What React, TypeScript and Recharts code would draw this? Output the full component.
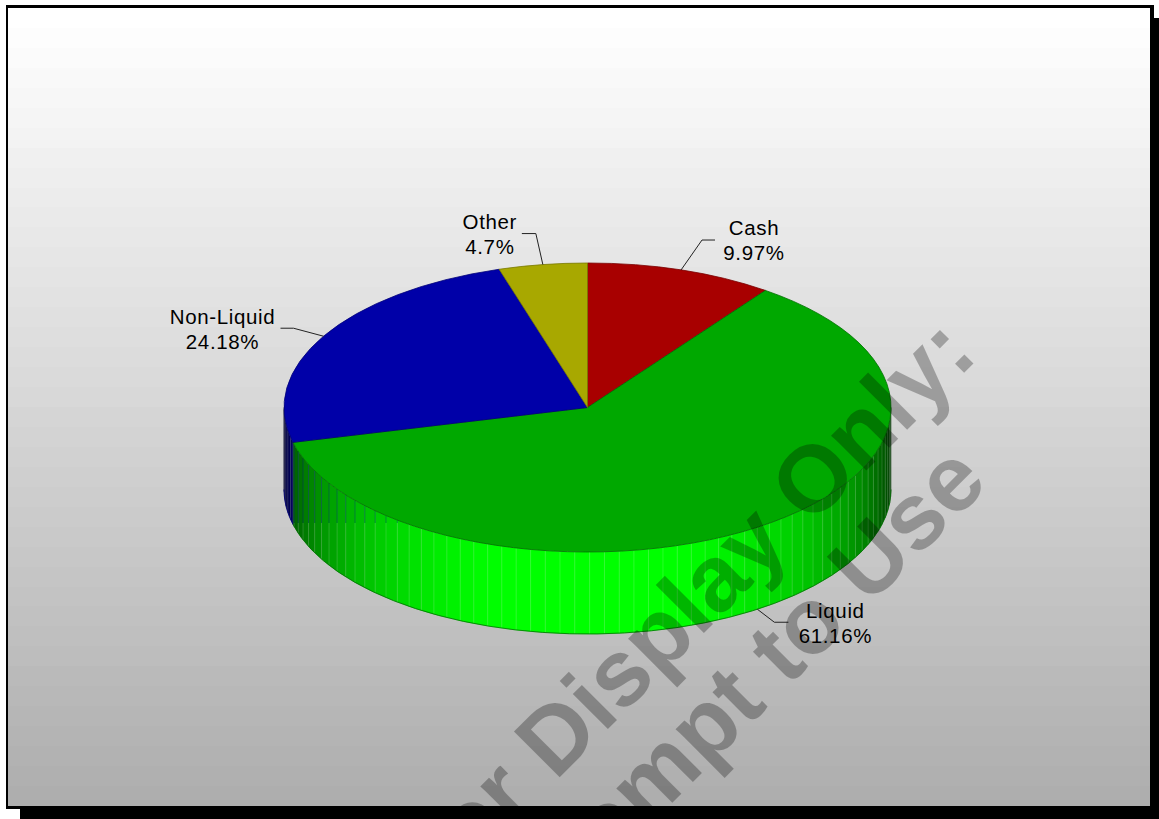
import React from "react";
import { PieChart, Pie, Cell } from "recharts";

const sliceNames = ["Cash", "Liquid", "Non-Liquid", "Other"];
const sliceValues = [9.97, 61.16, 24.18, 4.7];
const sliceLabels = ["9.97%", "61.16%", "24.18%", "4.7%"];
const topColors = ["#a80000", "#00a800", "#0000a8", "#a8a800"];
const edgeColors = ["#780000", "#007000", "#000078", "#787800"];
const wallHues = [
  [255, 0, 0],
  [0, 255, 0],
  [0, 0, 255],
  [255, 255, 0],
];

const WIDTH = 1159;
const HEIGHT = 819;
const CX = 587.5;
const CY = 407.5;
const RADIUS = 303.5;
const SQUASH = 144.5 / 303.5;
const DEPTH = 82;
const STRIP_DEG = 2.8;
const BAND_COUNT = 40;
const SEAM_SPLIT_Y = 523;

const chartData = sliceNames.map((name, i) => ({
  name,
  value: sliceValues[i],
  caption: sliceLabels[i],
  index: i,
}));

const rad = (deg: number) => (deg * Math.PI) / 180;
const rimX = (cx: number, r: number, deg: number) => cx + r * Math.cos(rad(deg));
const rimY = (cy: number, r: number, deg: number) => cy - r * SQUASH * Math.sin(rad(deg));

// Flat top face of a slice: a circular sector squashed onto the ellipse.
function TopSlice(props: any) {
  const { cx, cy, outerRadius: r, startAngle, endAngle, fill, stroke } = props;
  const x0 = rimX(cx, r, startAngle);
  const y0 = rimY(cy, r, startAngle);
  const x1 = rimX(cx, r, endAngle);
  const y1 = rimY(cy, r, endAngle);
  const large = Math.abs(startAngle - endAngle) > 180 ? 1 : 0;
  const d = `M${cx},${cy} L${x0},${y0} A${r},${r * SQUASH} 0 ${large} 1 ${x1},${y1} Z`;
  return <path d={d} fill={fill} stroke={stroke} strokeWidth={0.8} strokeLinejoin="round" />;
}

// Front wall of a slice, cut into narrow shaded strips that fade towards the sides.
function WallSlice(props: any) {
  const { cx, cy, outerRadius: r, startAngle, endAngle, index, stroke } = props;
  const hue = wallHues[index];
  const from = Math.min(0, startAngle);
  const to = Math.max(-180, endAngle);
  if (from <= to) return null;
  const strips: React.ReactNode[] = [];
  const firstStep = Math.floor(-from / STRIP_DEG);
  const lastStep = Math.ceil(-to / STRIP_DEG);
  for (let s = firstStep; s < lastStep; s++) {
    const a0 = Math.min(from, -s * STRIP_DEG);
    const a1 = Math.max(to, -(s + 1) * STRIP_DEG);
    const mid = (a0 + a1) / 2;
    const facing = Math.cos(rad(mid + 90));
    const light = Math.min(1, 0.16 + 0.88 * facing);
    const colour = `rgb(${hue.map((c) => Math.round(c * light)).join(",")})`;
    const x0 = rimX(cx, r, a0);
    const y0 = rimY(cy, r, a0);
    const x1 = rimX(cx, r, a1);
    const y1 = rimY(cy, r, a1);
    const d = `M${x0},${y0} A${r},${r * SQUASH} 0 0 1 ${x1},${y1} L${x1},${y1 + DEPTH} A${r},${r * SQUASH} 0 0 0 ${x0},${y0 + DEPTH} Z`;
    strips.push(<path key={`s${s}`} d={d} fill={colour} stroke={colour} strokeWidth={0.4} />);
    // Seams of the green wall's far left pick up a blue tint in their upper part.
    const tinted = index === 1 && a0 < -90 && y0 < SEAM_SPLIT_Y;
    strips.push(
      <line
        key={`l${s}`}
        x1={x0}
        y1={tinted ? SEAM_SPLIT_Y : y0}
        x2={x0}
        y2={y0 + DEPTH}
        stroke="#ffffff"
        strokeOpacity={0.15}
        strokeWidth={1}
      />
    );
    if (tinted) {
      strips.push(
        <line key={`t${s}`} x1={x0} y1={y0} x2={x0} y2={SEAM_SPLIT_Y} stroke="#0000a8" strokeOpacity={0.3} strokeWidth={1} />
      );
    }
  }
  const x0 = rimX(cx, r, from);
  const y0 = rimY(cy, r, from);
  const x1 = rimX(cx, r, to);
  const y1 = rimY(cy, r, to);
  const base = `M${x0},${y0 + DEPTH} A${r},${r * SQUASH} 0 0 1 ${x1},${y1 + DEPTH}`;
  return (
    <g>
      {strips}
      <path d={base} fill="none" stroke={stroke} strokeWidth={0.8} />
    </g>
  );
}

// Two-line caption with an elbow leader from the rim of the slice.
const leaderBends = [
  { dx: 21, dy: -30, run: 13, tx: 73, ty: -35 },
  { dx: 17, dy: 13, run: 14, tx: 78, ty: 9 },
  { dx: -30, dy: -8, run: -13, tx: -101, ty: -12 },
  { dx: -7, dy: -31, run: -14, tx: -53, ty: -36 },
];

function SliceCaption(props: any) {
  const { cx, cy, outerRadius: r, midAngle, index, name, payload } = props;
  const bend = leaderBends[index];
  const onFront = Math.sin(rad(midAngle)) < 0 ? DEPTH : 0;
  const x = rimX(cx, r, midAngle);
  const y = rimY(cy, r, midAngle) + onFront;
  const ex = x + bend.dx;
  const ey = y + bend.dy;
  const tx = x + bend.tx;
  const ty = y + bend.ty;
  const font = { fontFamily: "Liberation Sans", fontSize: 20.5, letterSpacing: 0.65, fill: "#000000", textAnchor: "middle" as const };
  return (
    <g>
      <polyline points={`${x},${y} ${ex},${ey} ${ex + bend.run},${ey}`} fill="none" stroke="#222222" strokeWidth={1} />
      <text x={tx} y={ty} {...font}>{name}</text>
      <text x={tx} y={ty + 25} {...font}>{payload.caption}</text>
    </g>
  );
}

const bandStops: React.ReactNode[] = [];
for (let b = 0; b < BAND_COUNT; b++) {
  const level = Math.round(255 - (b * (255 - 174)) / (BAND_COUNT - 1));
  const colour = `rgb(${level},${level},${level})`;
  bandStops.push(<stop key={`a${b}`} offset={b / BAND_COUNT} stopColor={colour} />);
  bandStops.push(<stop key={`b${b}`} offset={(b + 1) / BAND_COUNT} stopColor={colour} />);
}

export default function App() {
  return (
    <div style={{ position: "absolute", left: 0, top: 0, width: WIDTH, height: HEIGHT, overflow: "hidden", background: "#ffffff" }}>
      <PieChart width={WIDTH} height={HEIGHT} margin={{ top: 0, right: 0, bottom: 0, left: 0 }}>
        <defs>
          <linearGradient id="panelBands" x1="0" y1="0" x2="0" y2="1">{bandStops}</linearGradient>
        </defs>
        <rect x={20} y={18} width={1139} height={801} fill="#000000" />
        <rect x={6} y={5} width={1148} height={804} fill="#000000" />
        <rect x={8} y={8} width={1142} height={798} fill="url(#panelBands)" />
        <Pie
          data={chartData}
          dataKey="value"
          nameKey="name"
          cx={CX}
          cy={CY}
          outerRadius={RADIUS}
          startAngle={90}
          endAngle={-270}
          paddingAngle={0}
          isAnimationActive={false}
          shape={WallSlice}
          legendType="none"
        >
          {chartData.map((d, i) => <Cell key={d.name} fill={topColors[i]} stroke={edgeColors[i]} />)}
        </Pie>
        <Pie
          data={chartData}
          dataKey="value"
          nameKey="name"
          cx={CX}
          cy={CY}
          outerRadius={RADIUS}
          startAngle={90}
          endAngle={-270}
          paddingAngle={0}
          isAnimationActive={false}
          shape={TopSlice}
          label={SliceCaption}
          labelLine={false}
          legendType="none"
        >
          {chartData.map((d, i) => <Cell key={d.name} fill={topColors[i]} stroke={edgeColors[i]} />)}
        </Pie>
      </PieChart>
      {/* Diagonal notice laid over the finished chart, held inside the panel */}
      <svg width={WIDTH} height={HEIGHT} style={{ position: "absolute", left: 0, top: 0, pointerEvents: "none" }}>
        <defs>
          <clipPath id="panelClip"><rect x={8} y={8} width={1142} height={798} /></clipPath>
        </defs>
        <g clipPath="url(#panelClip)" fontFamily="Liberation Sans" fontWeight="bold" fontSize={94} fill="#000000" fillOpacity={0.28} textAnchor="end">
          <text transform="translate(980,357) rotate(-45)">For Display Only:</text>
          <text transform="translate(990.5,484.5) rotate(-45)">Attempt to Use</text>
        </g>
      </svg>
    </div>
  );
}
